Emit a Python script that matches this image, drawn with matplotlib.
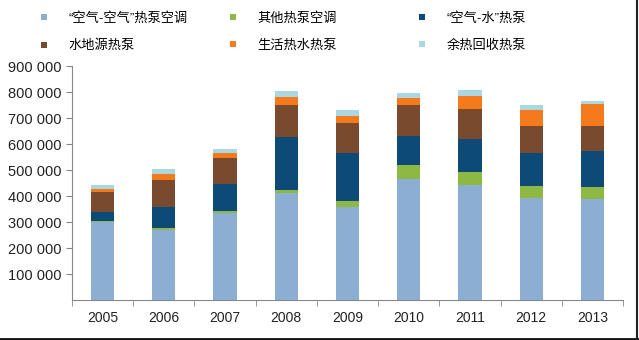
import numpy as np
import matplotlib
matplotlib.use("Agg")
import matplotlib.pyplot as plt
from matplotlib.ticker import FuncFormatter, FixedLocator
from matplotlib.lines import Line2D

plt.rcParams['font.family'] = ['Liberation Sans', 'Noto Sans CJK SC', 'DejaVu Sans']

years = ['2005', '2006', '2007', '2008', '2009', '2010', '2011', '2012', '2013']
labels = ['“空气-空气”热泵空调', '其他热泵空调', '“空气-水”热泵',
          '水地源热泵', '生活热水热泵', '余热回收热泵']
# 各类热泵数量（台）
air_air   = [300000, 268000, 333000, 412000, 358000, 465000, 442000, 393000, 390000]
other_ac  = [2000, 10000, 9000, 10000, 22000, 53000, 50000, 46000, 43000]
air_water = [38000, 80000, 103000, 205000, 187000, 112000, 126000, 128000, 139000]
ground    = [76000, 105000, 103000, 124000, 114000, 119000, 115000, 101000, 96000]
hot_water = [10000, 23000, 18000, 30000, 27000, 28000, 52000, 62000, 85000]
waste     = [15000, 18000, 16000, 23000, 24000, 20000, 24000, 21000, 11000]
series = [air_air, other_ac, air_water, ground, hot_water, waste]
colors = ['#8DAED3', '#8DB844', '#0E4A78', '#7A4A2E', '#F57A1C', '#A9D8E2']

fig = plt.figure(figsize=(6.39, 3.40), dpi=100)
ax = fig.add_axes([72 / 639, 1 - 300 / 340, 551 / 639, 234 / 340])

x = np.arange(len(years))
bottom = np.zeros(len(years))
for vals, c, lab in zip(series, colors, labels):
    ax.bar(x, vals, width=0.38, bottom=bottom, color=c, label=lab, linewidth=0)
    bottom += np.array(vals)

ax.set_xlim(-0.5, len(years) - 0.5)
ax.set_ylim(0, 900000)
ax.set_yticks(np.arange(100000, 900001, 100000))
ax.yaxis.set_major_formatter(FuncFormatter(lambda v, p: f'{int(v):,}'.replace(',', ' ')))
ax.set_xticks(x)
ax.set_xticklabels(years)
ax.xaxis.set_minor_locator(FixedLocator(np.arange(-0.5, len(years), 1.0)))
ax.tick_params(axis='x', which='major', length=0, labelsize=10, pad=8, colors='#222222')
ax.tick_params(axis='x', which='minor', length=4, color='#888888', direction='out')
ax.tick_params(axis='y', length=4, color='#888888', labelsize=10.5, colors='#222222')
ax.tick_params(axis='y', color='#888888')
for s in ['top', 'right']:
    ax.spines[s].set_visible(False)
for s in ['left', 'bottom']:
    ax.spines[s].set_color('#888888')

# 图例：三列固定位置，每列两行
col_x = [37 / 639, 226 / 639, 415 / 639]
for k, cx in enumerate(col_x):
    idx = [k, k + 3]
    handles = [Line2D([], [], marker='s', linestyle='none', markersize=5,
                      markerfacecolor=colors[i], markeredgewidth=0) for i in idx]
    fig.legend(handles, [labels[i] for i in idx], loc='upper left',
               bbox_to_anchor=(cx, 1 - 12 / 340), frameon=False,
               prop={'family': ['Liberation Sans', 'Noto Sans CJK SC'], 'size': 9.5},
               handlelength=1.0, handletextpad=1.4, labelspacing=1.12,
               borderaxespad=0, borderpad=0)

# 图片边框
fig.add_artist(Line2D([0, 1], [0.004, 0.004], color='#111111', lw=2, transform=fig.transFigure))
fig.add_artist(Line2D([0.997, 0.997], [0, 1], color='#222222', lw=1.5, transform=fig.transFigure))

fig.savefig('out.png', dpi=100)
